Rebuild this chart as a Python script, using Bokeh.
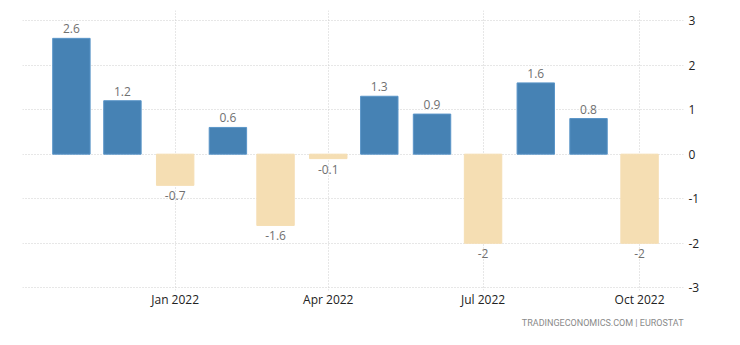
from datetime import datetime, timedelta
from bokeh.plotting import figure
from bokeh.core.properties import value
from bokeh.models import (ColumnDataSource, Range1d, FixedTicker, MonthsTicker,
                          DatetimeTickFormatter, Title, CustomJSTickFormatter)
from bokeh.embed import file_html
from bokeh.resources import INLINE

months = ["2021-11", "2021-12", "2022-01", "2022-02", "2022-03", "2022-04",
          "2022-05", "2022-06", "2022-07", "2022-08", "2022-09", "2022-10"]
values = [2.6, 1.2, -0.7, 0.6, -1.6, -0.1, 1.3, 0.9, -2.0, 1.6, 0.8, -2.0]
labels = ["2.6", "1.2", "-0.7", "0.6", "-1.6", "-0.1", "1.3", "0.9", "-2", "1.6", "0.8", "-2"]
y_ticks = [-3, -2, -1, 0, 1, 2, 3]

dates = [datetime.strptime(m + "-01", "%Y-%m-%d") for m in months]
colors = ["#4682B4" if v >= 0 else "#F5DEB3" for v in values]
lines = ["#5a95c8" if v >= 0 else "#F5DEB3" for v in values]

pos = ColumnDataSource(dict(x=[d for d, v in zip(dates, values) if v >= 0],
                            y=[v for v in values if v >= 0],
                            t=[l for l, v in zip(labels, values) if v >= 0]))
neg = ColumnDataSource(dict(x=[d for d, v in zip(dates, values) if v < 0],
                            y=[v for v in values if v < 0],
                            t=[l for l, v in zip(labels, values) if v < 0]))
src = ColumnDataSource(dict(x=dates, top=values, c=colors, lc=lines))

p = figure(width=740, height=345, x_axis_type="datetime", y_axis_location="right",
           output_backend="svg", toolbar_location=None,
           x_range=Range1d(datetime(2021, 10, 3, 6), datetime(2022, 10, 26, 20)),
           y_range=Range1d(-3.06, 3.225),
           min_border_left=22, min_border_right=57, min_border_top=10, min_border_bottom=55)
p.outline_line_color = None
p.background_fill_color = "white"
p.border_fill_color = "white"

bar_w = timedelta(days=22).total_seconds() * 1000
p.vbar(x="x", top="top", bottom=0, width=bar_w, fill_color="c", line_color="lc",
       line_width=1, source=src)

p.text(x="x", y="y", text="t", source=pos, text_align="center", text_baseline="bottom",
       y_offset=-5, text_font_size="12px", text_color="#707070", text_font=value("Open Sans"))
p.text(x="x", y="y", text="t", source=neg, text_align="center", text_baseline="top",
       y_offset=6, text_font_size="12px", text_color="#707070", text_font=value("Open Sans"))

xa = p.xaxis[0]
xa.ticker = MonthsTicker(months=[0, 3, 6, 9])
xa.formatter = DatetimeTickFormatter(months="%b %Y", days="%b %Y", years="%b %Y")
xa.axis_line_color = None
xa.major_tick_line_color = None
xa.minor_tick_line_color = None
xa.major_tick_out = 0
xa.major_tick_in = 0
xa.minor_tick_out = 0
xa.major_label_standoff = 0
xa.major_label_text_font = "Open Sans"
xa.major_label_text_font_size = "12px"
xa.major_label_text_color = "#222222"

ya = p.yaxis[0]
ya.ticker = FixedTicker(ticks=y_ticks)
ya.formatter = CustomJSTickFormatter(code="return tick.toString();")
ya.axis_line_color = None
ya.major_tick_line_color = None
ya.minor_tick_line_color = None
ya.major_tick_out = 0
ya.major_tick_in = 0
ya.minor_tick_out = 0
ya.major_label_standoff = 5
ya.major_label_text_font = "Open Sans"
ya.major_label_text_font_size = "12px"
ya.major_label_text_color = "#222222"

p.xgrid.ticker = MonthsTicker(months=[0, 3, 6, 9])
p.ygrid.ticker = FixedTicker(ticks=y_ticks)
for g in (p.xgrid[0], p.ygrid[0]):
    g.grid_line_color = "#cfcfcf"
    g.grid_line_dash = "1 2"
    g.grid_line_width = 1

p.add_layout(Title(text="TRADINGECONOMICS.COM | EUROSTAT", align="right",
                   text_font="Roboto", text_font_size="9px", text_color="#8a8a8a",
                   text_font_style="normal", standoff=10, padding=(7, 0, 0, 0)), "below")

open("out.html", "w").write(file_html(p, INLINE))
